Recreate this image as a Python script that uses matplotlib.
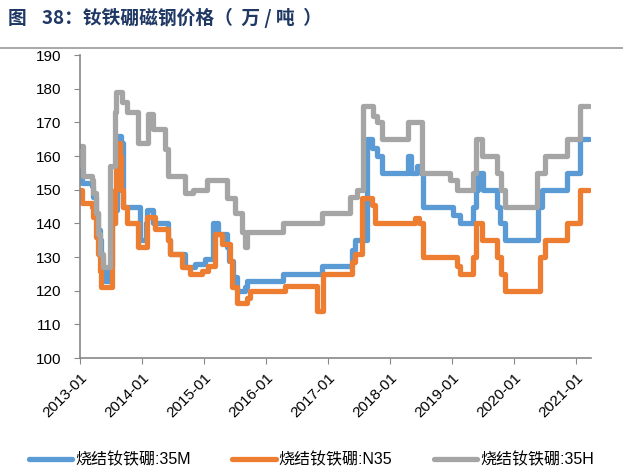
import matplotlib
matplotlib.use("Agg")
import matplotlib.pyplot as plt
import numpy as np

plt.rcParams["font.family"] = ["Liberation Sans", "Noto Sans CJK SC", "DejaVu Sans"]

# step-change points (decimal year, price in 万元/吨)
m35_t = [2013.00, 2013.03, 2013.19, 2013.22, 2013.26, 2013.29, 2013.32, 2013.34, 2013.37, 2013.40,
         2013.48, 2013.52, 2013.56, 2013.60, 2013.66, 2013.69, 2013.97, 2014.06, 2014.09, 2014.18,
         2014.42, 2014.45, 2014.69, 2014.85, 2015.02, 2015.15, 2015.23, 2015.37, 2015.40, 2015.47,
         2015.53, 2015.66, 2015.69, 2016.27, 2016.90, 2017.39, 2017.44, 2017.63, 2017.71, 2017.79,
         2017.87, 2018.29, 2018.33, 2018.44, 2018.50, 2018.53, 2019.02, 2019.13, 2019.34, 2019.38,
         2019.42, 2019.50, 2019.73, 2019.77, 2019.85, 2020.39, 2020.45, 2020.85, 2021.06, 2021.21]
m35_v = [156, 152, 151, 148, 143, 138, 135, 130, 126, 123,
         127, 140, 144, 166, 164, 145, 135, 140, 144, 140,
         135, 131, 127, 128, 129.5, 140, 137, 133, 129, 124,
         120, 121, 123, 125, 127.5, 132, 135, 165, 162.5, 160,
         155, 160, 155, 157, 155, 145, 142.5, 140, 145, 150,
         155, 150, 145, 140, 135, 145, 150, 155, 165, 165]

n35_t = [2013.00, 2013.03, 2013.19, 2013.22, 2013.26, 2013.29, 2013.32, 2013.35, 2013.52, 2013.56,
         2013.59, 2013.61, 2013.65, 2013.67, 2013.69, 2013.76, 2013.94, 2014.09, 2014.21, 2014.42,
         2014.45, 2014.65, 2014.77, 2014.97, 2015.06, 2015.18, 2015.29, 2015.42, 2015.45, 2015.53,
         2015.69, 2015.74, 2016.31, 2016.82, 2016.92, 2017.39, 2017.44, 2017.55, 2017.71, 2017.76,
         2018.40, 2018.46, 2018.53, 2019.08, 2019.13, 2019.34, 2019.39, 2019.48, 2019.73, 2019.79,
         2019.85, 2020.42, 2020.50, 2020.85, 2021.06, 2021.21]
n35_v = [150, 146, 145, 142, 136, 131, 126, 121, 140, 150,
         162, 164, 160, 150, 145, 140, 133, 142, 138.5, 135,
         131, 127, 125, 126, 127.5, 137, 134, 129, 121, 116.5,
         118, 120, 121.5, 114, 125, 128.5, 131, 147.5, 145.5, 140,
         141.5, 140, 130, 127.5, 125, 130, 140, 135, 130, 125,
         120, 130, 135, 140, 150, 150]

h35_t = [2013.00, 2013.05, 2013.19, 2013.22, 2013.26, 2013.29, 2013.32, 2013.37, 2013.48, 2013.56,
         2013.58, 2013.68, 2013.76, 2013.94, 2014.10, 2014.18, 2014.37, 2014.42, 2014.69, 2014.82,
         2015.05, 2015.37, 2015.50, 2015.61, 2015.66, 2015.69, 2016.27, 2016.90, 2017.35, 2017.47,
         2017.56, 2017.73, 2017.79, 2017.87, 2018.29, 2018.52, 2018.97, 2019.08, 2019.34, 2019.38,
         2019.48, 2019.73, 2019.79, 2019.85, 2020.37, 2020.50, 2020.85, 2021.06, 2021.21]
h35_v = [163, 154, 153, 149, 143, 137, 131, 127, 157, 173,
         179, 176, 173, 164, 172.5, 168, 162, 154, 149, 150,
         153, 147.5, 143, 137.5, 133, 137.5, 140, 143, 148, 150,
         175, 172, 170, 165, 170, 155, 153, 150, 155, 165,
         160, 155, 150, 145, 155, 160, 165, 175, 175]

series_names = ["烧结钕铁硼:35M", "烧结钕铁硼:N35", "烧结钕铁硼:35H"]
series_colors = ["#5B9BD5", "#ED7D31", "#A5A5A5"]
year_ticks = list(range(2013, 2022))
yticks = list(range(100, 191, 10))

fig = plt.figure(figsize=(6.23, 4.75), dpi=100)
ax = fig.add_axes([0.128, 0.246, 0.821, 0.638])

for t, v, name, c in zip([m35_t, n35_t, h35_t], [m35_v, n35_v, h35_v],
                         series_names, series_colors):
    ax.step(t, v, where="post", color=c, lw=3.8, label=name,
            solid_joinstyle="round", solid_capstyle="round")

ax.set_xlim(2013.0, 2021.24)
ax.set_ylim(100, 190)
ax.set_yticks(yticks)
ax.set_xticks(year_ticks)
ax.set_xticklabels([f"{y}-01" for y in year_ticks], rotation=45,
                   ha="right", rotation_mode="anchor", fontsize=11)
ax.tick_params(axis="y", labelsize=11, length=4, color="#888888", pad=9)
ax.tick_params(axis="x", length=4, color="#888888", pad=5)
for s in ["top", "right"]:
    ax.spines[s].set_visible(False)
for s in ["left", "bottom"]:
    ax.spines[s].set_color("#888888")
    ax.spines[s].set_linewidth(1.2)

fig.legend(loc="lower center", bbox_to_anchor=(0.5, -0.015), ncol=3, frameon=False,
           fontsize=11.5, handlelength=2.7, columnspacing=2.6, handletextpad=0.2)

# title: "图" and the rest placed separately, as in the source layout
title_font = dict(fontsize=13.5, fontweight="bold", color="#1F3864", va="center",
                  family=["Noto Sans CJK SC", "DejaVu Sans"])
fig.text(0.012, 0.962, "图", **title_font)
fig.text(0.068, 0.962, "38：钕铁硼磁钢价格（  万 / 吨  ）", **title_font)
fig.add_artist(plt.Line2D([0, 1], [0.9, 0.9], color="#999999", lw=1.2))

fig.savefig("out.png", dpi=100)
